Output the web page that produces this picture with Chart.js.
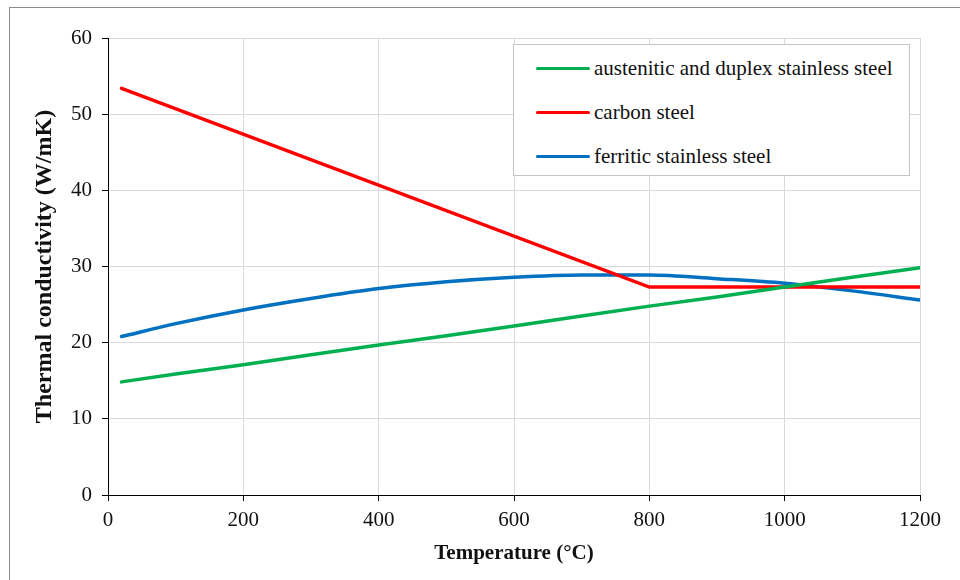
<!DOCTYPE html>
<html>
<head>
<meta charset="utf-8">
<script src="https://cdn.jsdelivr.net/npm/chart.js@4.4.1/dist/chart.umd.min.js"></script>
<style>
    body { margin: 0; background: #fff; }
    .wrap { position: relative; width: 960px; height: 580px; overflow: hidden; }
    .frame { position: absolute; left: 9px; top: 7px; width: 1000px; height: 620px; border: 1px solid #8c8c8c; box-sizing: border-box; }
    canvas { position: absolute; left: 0; top: 0; }
    .legend {
        position: absolute; left: 513px; top: 44px; width: 397px; height: 132px;
        box-sizing: border-box; border: 1px solid #c4c4c4; background: #fff;
        font-family: "Liberation Serif", "Times New Roman", serif; font-size: 21px; color: #111;
        padding-top: 1px;
    }
    .legend .item { display: flex; align-items: center; height: 44px; }
    .legend .swatch { width: 54px; height: 3px; margin-left: 22px; margin-right: 4px; border-radius: 2px; }
</style>
</head>
<body>
<div class="wrap">
    <div class="frame"></div>
    <canvas id="chart" width="960" height="580"></canvas>
    <div class="legend" id="legend"></div>
</div>
<script>
const temperatures = [20, 100, 200, 300, 400, 500, 600, 700, 800, 900, 1000, 1100, 1200];
const austenitic = [14.85, 15.9, 17.1, 18.4, 19.7, 20.9, 22.2, 23.5, 24.8, 26.0, 27.3, 28.6, 29.85];
const carbonTemps = [20, 800, 1200];
const carbon = [53.4, 27.3, 27.3];
const ferritic = [20.8, 22.5, 24.3, 25.8, 27.1, 28.0, 28.6, 28.9, 28.9, 28.4, 27.8, 26.8, 25.6];
const xTicks = [0, 200, 400, 600, 800, 1000, 1200];
const yTicks = [0, 10, 20, 30, 40, 50, 60];

const font = "'Liberation Serif', 'Times New Roman', serif";

const toPoints = (xs, ys) => xs.map((x, i) => ({ x: x, y: ys[i] }));

const datasets = [
    { label: 'austenitic and duplex stainless steel', data: toPoints(temperatures, austenitic), borderColor: '#00b050' },
    { label: 'carbon steel', data: toPoints(carbonTemps, carbon), borderColor: '#ff0000' },
    { label: 'ferritic stainless steel', data: toPoints(temperatures, ferritic), borderColor: '#0070c0', cubicInterpolationMode: 'monotone' }
].map(d => Object.assign({ borderWidth: 3.5, pointRadius: 0, fill: false, borderCapStyle: 'round' }, d));

const ctx = document.getElementById('chart').getContext('2d');
new Chart(ctx, {
    type: 'line',
    data: { datasets: datasets },
    options: {
        responsive: false,
        animation: false,
        layout: { padding: { top: 38, right: 40, left: 0, bottom: 0 } },
        plugins: { legend: { display: false }, tooltip: { enabled: false } },
        scales: {
            x: {
                type: 'linear', min: 0, max: 1200,
                afterBuildTicks: s => { s.ticks = xTicks.map(v => ({ value: v })); },
                afterFit: s => { s.height = 85; },
                grid: { color: '#d9d9d9', tickColor: '#000', tickLength: 6 },
                border: { color: '#000', width: 1 },
                ticks: { color: '#111', font: { family: font, size: 21 }, padding: 7, maxRotation: 0, callback: v => String(v) },
                title: { display: true, text: 'Temperature (°C)', color: '#111', font: { family: font, size: 21, weight: 'bold' }, padding: { bottom: 14 } }
            },
            y: {
                min: 0, max: 60,
                afterBuildTicks: s => { s.ticks = yTicks.map(v => ({ value: v })); },
                afterFit: s => { s.width = 108; },
                grid: { color: '#d9d9d9', tickColor: '#000', tickLength: 6 },
                border: { color: '#000', width: 1 },
                ticks: { color: '#111', font: { family: font, size: 21 }, padding: 10, callback: v => String(v) },
                title: { display: true, text: 'Thermal conductivity (W/mK)', color: '#111', font: { family: font, size: 24, weight: 'bold' }, padding: { top: 30 } }
            }
        }
    }
});

document.getElementById('legend').innerHTML = datasets.map(d => `
    <div class="item"><span class="swatch" style="background:${d.borderColor}"></span>${d.label}</div>
`).join('');
</script>
</body>
</html>
